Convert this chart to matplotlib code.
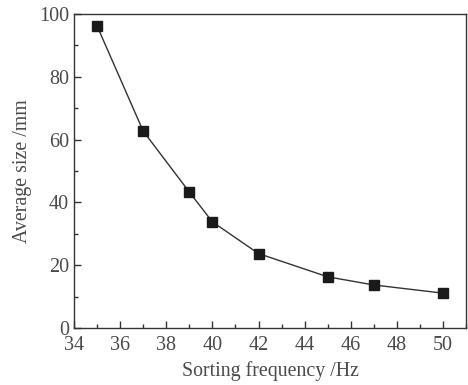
import matplotlib
matplotlib.use("Agg")
import matplotlib.pyplot as plt
from matplotlib.ticker import MultipleLocator

freq = [35, 37, 39, 40, 42, 45, 47, 50]
size = [96.2, 62.7, 43.3, 33.8, 23.7, 16.3, 13.7, 11.1]
xticks = [34, 36, 38, 40, 42, 44, 46, 48, 50]
yticks = [0, 20, 40, 60, 80, 100]

plt.rcParams['font.family'] = ['Liberation Serif', 'DejaVu Serif']
txt = '#4a4a4a'

fig = plt.figure(figsize=(4.68, 3.85), dpi=100)
ax = fig.add_axes([0.158, 0.148, 0.838, 0.816])
ax.plot(freq, size, color='#333333', lw=1.0, marker='s', ms=7,
        mfc='#1a1a1a', mec='#1a1a1a')
ax.set_xlim(34, 51)
ax.set_ylim(0, 100)
ax.set_xticks(xticks)
ax.set_yticks(yticks)
ax.xaxis.set_minor_locator(MultipleLocator(1))
ax.yaxis.set_minor_locator(MultipleLocator(10))
ax.tick_params(which='both', direction='in', colors='#333333', labelcolor=txt,
               labelsize=14.5, top=False, right=False)
ax.tick_params(axis='x', which='major', pad=6)
ax.tick_params(which='major', length=5, width=1)
ax.tick_params(which='minor', length=3, width=1)
for s in ax.spines.values():
    s.set_color('#333333')
    s.set_linewidth(1.0)
ax.set_xlabel('Sorting frequency /Hz', fontsize=14.3, color=txt, labelpad=4)
ax.set_ylabel('Average size /mm', fontsize=14.3, color=txt, labelpad=5)
fig.savefig('out.png', dpi=100)
